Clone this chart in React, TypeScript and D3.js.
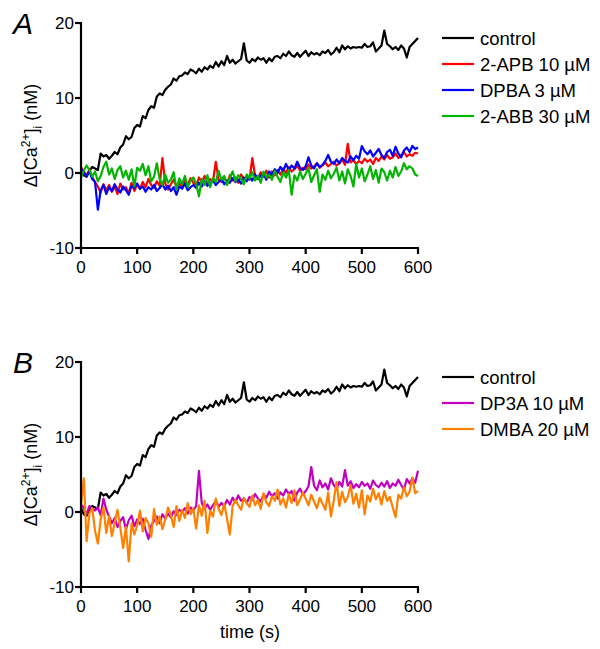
import React from "react";
import * as d3 from "d3";

const STEP = 5; // seconds between samples

const control = [
  0.5, -0.3, -0.5, 0.3, 0.8, 0.6, 0.4, 2.6, 2.2, 2.4,
  1.9, 2.3, 2.8, 2.5, 3.4, 3.8, 4.9, 4.5, 4.8, 6.0,
  6.4, 6.2, 7.6, 7.3, 8.4, 8.9, 8.7, 10.2, 10.6, 10.4,
  11.1, 11.5, 11.8, 12.6, 12.3, 12.9, 13.0, 13.4, 13.2, 13.8,
  13.6, 13.3, 13.9, 13.5, 14.1, 13.8, 14.3, 14.0, 14.8, 14.2,
  14.9, 14.4, 15.6, 14.7, 15.1, 14.6, 14.9, 15.2, 17.3, 15.0,
  14.7, 15.2, 14.9, 15.4, 15.1, 15.3, 14.7, 15.3, 14.9, 15.5,
  15.6, 15.3, 15.9, 15.6, 16.2, 15.7, 15.5, 16.0, 15.5, 15.9,
  16.3, 15.6, 16.1, 15.8, 16.0, 15.7, 16.2, 16.0, 16.4, 15.8,
  16.1, 16.7, 16.1, 17.0, 16.5, 16.9, 16.6, 16.8, 16.7, 16.8,
  16.7, 17.2, 16.8, 16.9, 17.4, 16.2, 16.6, 17.0, 19.0, 17.2,
  16.9, 16.5, 16.8, 16.4, 17.0, 16.6, 15.4, 16.8, 17.2, 17.6,
  18.0,
];

const apb = [
  0.8, 0.2, -0.3, 0.5, -0.5, -1.2, -1.8, -2.6, -1.5, -2.3,
  -1.6, -2.5, -1.8, -2.8, -1.4, -2.2, -1.9, -2.7, -1.3, -2.4,
  -1.5, -2.1, -1.2, -1.9, -0.8, -1.6, -2.0, -1.1, -1.7, 2.0,
  -1.4, -2.2, -1.5, -0.9, -1.8, -1.3, -2.0, -1.0, -1.6, -0.7,
  -1.3, -1.8, -0.6, -1.2, -0.4, -1.5, -0.8, -1.1, 1.5, -0.9,
  -1.2, -0.5, -1.4, -0.3, -1.0, -0.6, -1.3, -0.2, -0.8, -0.5,
  -0.9, 2.0, -0.4, -0.7, 0.1, -0.5, 0.3, -0.6, 0.2, -0.3,
  0.4, -0.2, 0.6, 0.0, 0.8, 0.2, 0.5, 1.0, 0.3, 0.7,
  0.5, 1.1, 0.6, 0.9, 1.3, 0.7, 1.0, 1.4, 0.9, 1.2,
  1.5, 1.0, 1.3, 1.8, 1.1, 3.9, 1.4, 1.7, 1.2, 1.6,
  1.3, 1.9, 1.5, 1.8, 1.2, 2.0, 1.6, 2.2, 1.8, 2.4,
  1.9, 2.1, 2.6, 2.0, 2.3, 2.8, 2.2, 2.5, 2.3, 2.7,
  2.6,
];

const dpba = [
  0.6, 0.0, -0.4, 0.2, -0.8, -1.2, -4.9, -2.3, -1.6, -2.8,
  -1.9, -2.4, -1.5, -2.2, -2.6, -1.8, -2.3, -2.9, -1.7, -2.0,
  -1.4, -2.1, -1.8, -2.5, -1.9, -2.2, -1.6, -2.4, -2.0, -1.5,
  -2.2, -1.7, -2.4, -1.9, -2.9, -1.8, -2.1, -1.4, -2.3, -1.9,
  -1.6, -2.0, -1.3, -1.8, -1.1, -1.7, -1.4, -1.0, -1.6, -1.2,
  -0.8, -1.5, -1.0, -1.3, -0.7, -1.2, -0.9, -1.4, -0.6, -1.1,
  -0.5, -1.0, -0.2, -0.8, -0.4, -0.1, -0.9, 0.2, -0.3, 0.5,
  0.0, 0.8, 0.3, 1.2, 0.4, 1.0, 0.6, 1.5, 0.7, 0.4,
  0.9, 2.1, 1.0, 0.6, 1.3, 0.8, 1.1, 1.6, 2.4, 1.5,
  1.2, 1.8, 1.3, 2.0, 1.6, 1.4, 2.2, 1.7, 2.3, 1.9,
  3.6, 2.9, 2.5, 3.0, 2.2, 2.7, 3.2, 2.4, 2.0, 2.8,
  3.1, 2.3, 3.5, 2.6, 2.1, 3.0, 3.4, 2.8, 3.6, 3.2,
  3.4,
];

const abb = [
  -0.6, 0.3, 1.0, 0.4, -0.5, 0.2, -1.1, -0.4, 0.8, 1.5,
  -0.2, 0.6, -0.8, 0.4, 0.9, -0.6, 0.3, -0.9, 0.5, -1.8,
  0.7, 0.3, 1.2, -0.3, 0.9, -1.1, -0.5, 1.3, -0.8, -1.6,
  -0.2, -1.3, -0.9, 0.1, -2.2, -0.7, -1.5, -0.4, -1.9, -1.0,
  -0.6, -1.4, -3.1, -0.8, -1.6, -0.3, -1.9, -0.7, -1.2, 0.3,
  -0.9, -0.4, -1.6, -0.6, 0.2, -1.1, -0.3, -0.8, -1.5, -0.2,
  -0.7, 0.1, -1.0, -0.4, -1.3, 0.2, -0.6, -0.2, -0.9, 0.3,
  -0.5, -1.2, 0.1, -0.6, 0.4, -2.9, -0.3, -1.0, 0.2, -0.8,
  -0.1, 0.6, -1.2, -0.3, 0.5, -2.5, -0.2, -0.9, 0.3, -0.7,
  -0.1, 0.7, -1.0, 0.2, -1.4, 0.5, -0.4, -1.8, 1.2, -0.6,
  0.6, -1.1, -0.2, 0.9, -0.8, 0.4, -1.3, 0.6, 0.1, -1.0,
  0.3, -0.6, 0.8, -0.4, 0.2, 1.3, 0.5, 0.9, 0.6, -0.2,
  -0.4,
];

const dp3a = [
  1.0, 0.5, -0.3, 0.8, 0.4, 0.2, 0.6, -0.4, 1.8, 0.3,
  -0.6, -1.5, -0.8, -2.0, -1.2, -0.7, -2.3, -1.1, -0.5, -1.9,
  -1.0, -1.6, -0.9, -2.4, -3.6, -1.8, -1.2, -0.6, -1.5, -0.3,
  -0.9, -0.2, -0.7, 0.1, -0.4, 0.3, 0.0, 0.5, -0.2, 0.6,
  0.2, 0.8, 5.5, 1.2, 0.4, 1.0, 0.3, 0.9, 1.5, 0.7,
  1.2, 0.8, 1.6, 1.0, 1.9, 1.3, 2.2, 1.5, 1.8, 1.2,
  2.0, 1.6, 2.4, 1.8, 1.4, 2.3, 1.9, 2.7, 2.1, 2.5,
  1.8, 2.6, 2.2, 3.0, 2.4, 2.8, 1.5, 2.6, 3.1, 2.3,
  2.8, 3.4, 6.0, 3.5, 2.9, 4.2, 3.3, 3.8, 3.0, 4.5,
  3.6, 3.1, 4.0, 3.4, 5.6, 3.5, 4.1, 3.2, 3.7, 3.3,
  4.0, 3.5, 3.8, 3.1, 4.2, 3.6, 3.3, 3.9, 3.4, 4.1,
  3.2, 3.8, 3.5, 4.3, 3.6, 3.0, 4.4, 3.8, 4.5, 3.9,
  5.5,
];

const dmba = [
  1.0, 4.5, -3.9, -0.2, 0.5, -2.5, -4.2, -1.0, 0.6, -2.8,
  -0.5, -3.2, -1.4, 0.3, -2.1, -4.8, -2.0, -6.6, -1.5, -3.0,
  -1.8, 0.2, -2.6, -0.8, -1.5, -3.3, 0.4, -1.7, -0.6, -2.3,
  -1.0, 0.6, -0.4, -2.0, 0.8, -1.2, 0.3, -0.8, 1.2, -0.3,
  0.5, -2.2, 0.9, -0.5, 1.5, -2.8, 0.2, -0.6, 1.8, 0.4,
  -0.4, 1.1, -0.9, -3.0, 0.8, 1.6, 0.9, 0.3, 1.9, 1.2,
  0.7, 2.2, 0.9, 1.6, 0.4, 2.5, 1.3, 0.8, 2.1, 1.5,
  3.0, 1.0, 1.8, 0.6, 2.4, 1.2, 2.9, 0.9, 1.7, 2.6,
  1.8, 0.9, 2.3, 1.4, 0.5, 1.9, 1.1, 0.3, 2.6, -0.6,
  1.5, 4.0, 0.8, 2.7, 1.3, 2.0, 3.6, 1.1, 2.4, 0.6,
  2.9, -0.3, 2.2, 1.4, 3.1, 1.7, 2.5, 1.0, 2.8, 1.5,
  2.0, 0.6, -0.7, 2.3, 1.8, 3.3, 2.1, 2.7, 4.6, 2.5,
  2.8,
];

const xTicks = [0, 100, 200, 300, 400, 500, 600];
const yTicks = [-10, 0, 10, 20];

type Series = { name: string; color: string; values: number[] };

const panelASeries: Series[] = [
  { name: "control", color: "#000000", values: control },
  { name: "2-APB 10 µM", color: "#ff0000", values: apb },
  { name: "DPBA 3 µM", color: "#0000ff", values: dpba },
  { name: "2-ABB 30 µM", color: "#00b400", values: abb },
];
const panelBSeries: Series[] = [
  { name: "control", color: "#000000", values: control },
  { name: "DP3A 10 µM", color: "#c000c0", values: dp3a },
  { name: "DMBA 20 µM", color: "#ff8000", values: dmba },
];

const FONT = "'Liberation Sans', Arial, Helvetica, sans-serif";

function Panel({ top, letter, series, order, showXLabel }: {
  top: number; letter: string; series: Series[]; order: number[]; showXLabel: boolean;
}) {
  const x = d3.scaleLinear().domain([0, 600]).range([81, 418]);
  const y = d3.scaleLinear().domain([-10, 20]).range([top + 225, top]);
  const line = d3.line<number>().x((_, i) => x(i * STEP)).y((v) => y(v));
  const yMid = (y(-10) + y(20)) / 2;
  return (
    <g>
      <text x={13} y={top + 11} fontSize={30} fontStyle="italic" fontFamily={FONT}>{letter}</text>
      {order.map((k) => (
        <path key={k} d={line(series[k].values) || ""} fill="none" stroke={series[k].color}
          strokeWidth={2.2} strokeLinejoin="round" />
      ))}
      {/* y axis */}
      <line x1={x(0)} x2={x(0)} y1={y(20) - 1} y2={y(-10) + 1} stroke="#000" strokeWidth={2.2} />
      {yTicks.map((t) => (
        <g key={t}>
          <line x1={x(0) - 6} x2={x(0)} y1={y(t)} y2={y(t)} stroke="#000" strokeWidth={2.2} />
          <text x={x(0) - 7} y={y(t)} dy="0.36em" textAnchor="end" fontSize={17} fontFamily={FONT}>{t}</text>
        </g>
      ))}
      {/* x axis */}
      <line x1={x(0) - 1} x2={x(600) + 1} y1={y(-10)} y2={y(-10)} stroke="#000" strokeWidth={2.2} />
      {xTicks.map((t) => (
        <g key={t}>
          <line x1={x(t)} x2={x(t)} y1={y(-10)} y2={y(-10) + 6} stroke="#000" strokeWidth={2.2} />
          <text x={x(t)} y={y(-10) + 25} textAnchor="middle" fontSize={17} fontFamily={FONT}>{t}</text>
        </g>
      ))}
      {/* y label */}
      <text transform={`translate(37,${yMid}) rotate(-90)`} textAnchor="middle" fontSize={18} fontFamily={FONT}>
        Δ[Ca<tspan dy={-7} fontSize={12}>2+</tspan><tspan dy={7}>]</tspan><tspan dy={5} fontSize={12}>i</tspan><tspan dy={-5}> (nM)</tspan>
      </text>
      {showXLabel && (
        <text x={250} y={y(-10) + 51} textAnchor="middle" fontSize={18} fontFamily={FONT}>time (s)</text>
      )}
      {/* legend */}
      {series.map((s, i) => (
        <g key={s.name}>
          <line x1={442} x2={474} y1={top + 15 + i * 26} y2={top + 15 + i * 26} stroke={s.color} strokeWidth={2.2} />
          <text x={480} y={top + 15 + i * 26} dy="0.36em" fontSize={18.5} fontFamily={FONT}>{s.name}</text>
        </g>
      ))}
    </g>
  );
}

export default function App() {
  return (
    <svg width={600} height={649} style={{ position: "absolute", left: 0, top: 0, background: "#fff" }}>
      <Panel top={23} letter="A" series={panelASeries} order={[0, 1, 2, 3]} showXLabel={false} />
      <Panel top={362} letter="B" series={panelBSeries} order={[0, 1, 2]} showXLabel={true} />
    </svg>
  );
}
